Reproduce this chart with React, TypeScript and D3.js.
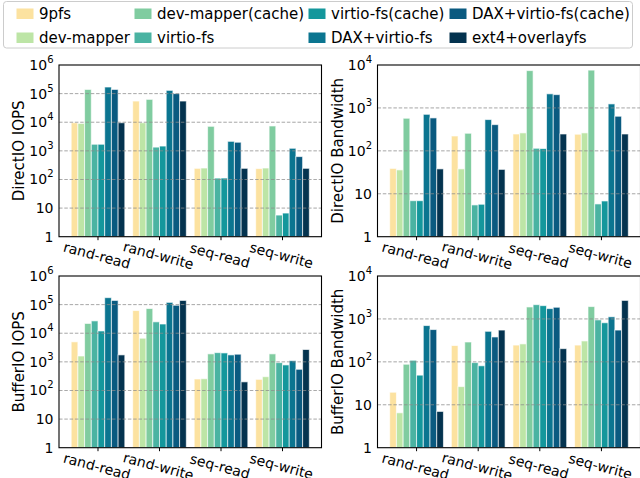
import React from "react";
import * as d3 from "d3";

const categories = ["rand-read", "rand-write", "seq-read", "seq-write"];
const seriesNames = [
  "9pfs",
  "dev-mapper",
  "dev-mapper(cache)",
  "virtio-fs",
  "virtio-fs(cache)",
  "DAX+virtio-fs",
  "DAX+virtio-fs(cache)",
  "ext4+overlayfs",
];
const seriesColors = [
  "#fce2a0",
  "#bde5a6",
  "#80cca0",
  "#4ab3a2",
  "#14979c",
  "#0b7590",
  "#0a5a80",
  "#04334f",
];

// rows = series (same order as seriesNames), cols = categories
const directIops = [
  [9.6e3, 5.5e4, 245, 240],
  [9.1e3, 9.6e3, 251, 251],
  [1.4e5, 6.3e4, 7.2e3, 7.4e3],
  [1.7e3, 1.35e3, 112, 5.7],
  [1.7e3, 1.47e3, 112, 6.7],
  [1.7e5, 1.3e5, 2.15e3, 1.23e3],
  [1.4e5, 1.0e5, 2.0e3, 630],
  [9.6e3, 5.5e4, 245, 245],
];
const directBandwidth = [
  [39, 222, 247, 244],
  [36, 38, 262, 262],
  [575, 257, 7.4e3, 7.6e3],
  [6.9, 5.5, 115, 5.8],
  [6.9, 5.7, 113, 6.8],
  [710, 535, 2.13e3, 1.24e3],
  [585, 408, 2.04e3, 640],
  [38, 37, 247, 247],
];
const bufferIops = [
  [5.0e3, 6.2e4, 252, 245],
  [1.6e3, 6.7e3, 257, 303],
  [2.2e4, 7.3e4, 1.9e3, 1.9e3],
  [2.7e4, 2.5e4, 2.1e3, 940],
  [1.2e4, 2.1e4, 2.05e3, 780],
  [1.75e5, 1.2e5, 1.75e3, 1.1e3],
  [1.4e5, 9.5e4, 1.85e3, 550],
  [1.75e3, 1.4e5, 200, 2.7e3],
];
const bufferBandwidth = [
  [19.6, 240, 246, 246],
  [6.5, 26.5, 262, 307],
  [88, 290, 1.9e3, 1.94e3],
  [109, 96, 2.15e3, 950],
  [49, 81, 2.04e3, 815],
  [700, 515, 1.74e3, 1.12e3],
  [565, 380, 1.87e3, 550],
  [7.0, 550, 203, 2.7e3],
];

const iopsExponents = [0, 1, 2, 3, 4, 5, 6];
const bandwidthExponents = [0, 1, 2, 3, 4];

const FONT = "DejaVu Sans, sans-serif";
const BAR_W = 0.109;

type PanelProps = {
  values: number[][];
  exponents: number[];
  label: string;
  left: number;
  right: number;
  top: number;
  bottom: number;
  labelX: number;
};

function TickLabel({ exp, x, y }: { exp: number; x: number; y: number }) {
  if (exp === 0 || exp === 1) {
    return (
      <text x={x} y={y + 5} textAnchor="end" fontSize={14}>
        {exp === 0 ? "1" : "10"}
      </text>
    );
  }
  return (
    <text x={x} y={y + 5} textAnchor="end" fontSize={14}>
      10
      <tspan fontSize={10} dy={-7}>
        {exp}
      </tspan>
    </text>
  );
}

function Panel({ values, exponents, label, left, right, top, bottom, labelX }: PanelProps) {
  const maxExp = exponents[exponents.length - 1];
  const x = d3.scaleLinear().domain([-0.634, categories.length - 1 + 0.634]).range([left, right]);
  const y = d3.scaleLog().domain([1, Math.pow(10, maxExp)]).range([bottom, top]);
  const bw = x(BAR_W) - x(0);

  return (
    <g fontFamily={FONT}>
      {values.map((row, si) =>
        row.map((v, ci) => {
          const cx = x(ci + (si - 3.5) * BAR_W);
          return (
            <rect
              key={`${si}-${ci}`}
              x={cx - bw / 2}
              y={y(v)}
              width={bw}
              height={bottom - y(v)}
              fill={seriesColors[si]}
              stroke="#ffffff"
              strokeOpacity={0.65}
              strokeWidth={1}
            />
          );
        })
      )}
      {exponents.slice(1, -1).map((e) => (
        <line
          key={e}
          x1={left}
          x2={right}
          y1={y(Math.pow(10, e))}
          y2={y(Math.pow(10, e))}
          stroke="#8c8c8c"
          strokeWidth={0.9}
          strokeDasharray="3.5,1.8"
          opacity={0.85}
        />
      ))}
      <rect x={left} y={top} width={right - left} height={bottom - top} fill="none" stroke="#000" strokeWidth={1.1} />
      {exponents.map((e) => (
        <TickLabel key={e} exp={e} x={left - 5.5} y={y(Math.pow(10, e))} />
      ))}
      {categories.map((c, ci) => (
        <g key={c}>
          <line x1={x(ci)} x2={x(ci)} y1={bottom} y2={bottom + 3.5} stroke="#000" strokeWidth={1} />
          <text
            x={0}
            y={0}
            transform={`translate(${x(ci) - 1},${bottom + 18.5}) rotate(15)`}
            textAnchor="middle"
            dominantBaseline="central"
            fontSize={14}
          >
            {c}
          </text>
        </g>
      ))}
      <text
        transform={`translate(${labelX},${(top + bottom) / 2}) rotate(-90)`}
        textAnchor="middle"
        dominantBaseline="central"
        fontSize={15}
      >
        {label}
      </text>
    </g>
  );
}

const legendTextX = [39, 157, 331, 472];
const legendRowY = [14, 38];

function Legend() {
  return (
    <g fontFamily={FONT}>
      <rect x={3.5} y={1.5} width={629} height={46.5} rx={3} fill="#fff" fillOpacity={0.8} stroke="#cccccc" strokeWidth={1} />
      {seriesNames.map((name, i) => {
        const col = Math.floor(i / 2);
        const row = i % 2;
        const tx = legendTextX[col];
        const cy = legendRowY[row];
        return (
          <g key={name}>
            <rect x={tx - 22.5} y={cy - 5.5} width={17} height={10.5} fill={seriesColors[i]} />
            <text x={tx} y={cy} dominantBaseline="central" fontSize={15}>
              {name}
            </text>
          </g>
        );
      })}
    </g>
  );
}

export default function App() {
  return (
    <svg
      width={640}
      height={478}
      viewBox="0 0 640 478"
      style={{ position: "absolute", left: 0, top: 0, background: "#fff" }}
    >
      <Panel values={directIops} exponents={iopsExponents} label="DirectIO IOPS" left={59} right={321.5} top={65} bottom={236.7} labelX={18.5} />
      <Panel values={directBandwidth} exponents={bandwidthExponents} label="DirectIO Bandwidth" left={377.5} right={640.5} top={65} bottom={236.7} labelX={337.5} />
      <Panel values={bufferIops} exponents={iopsExponents} label="BufferIO IOPS" left={59} right={321.5} top={276} bottom={447.7} labelX={18.5} />
      <Panel values={bufferBandwidth} exponents={bandwidthExponents} label="BufferIO Bandwidth" left={377.5} right={640.5} top={276} bottom={447.7} labelX={337.5} />
      <Legend />
    </svg>
  );
}
